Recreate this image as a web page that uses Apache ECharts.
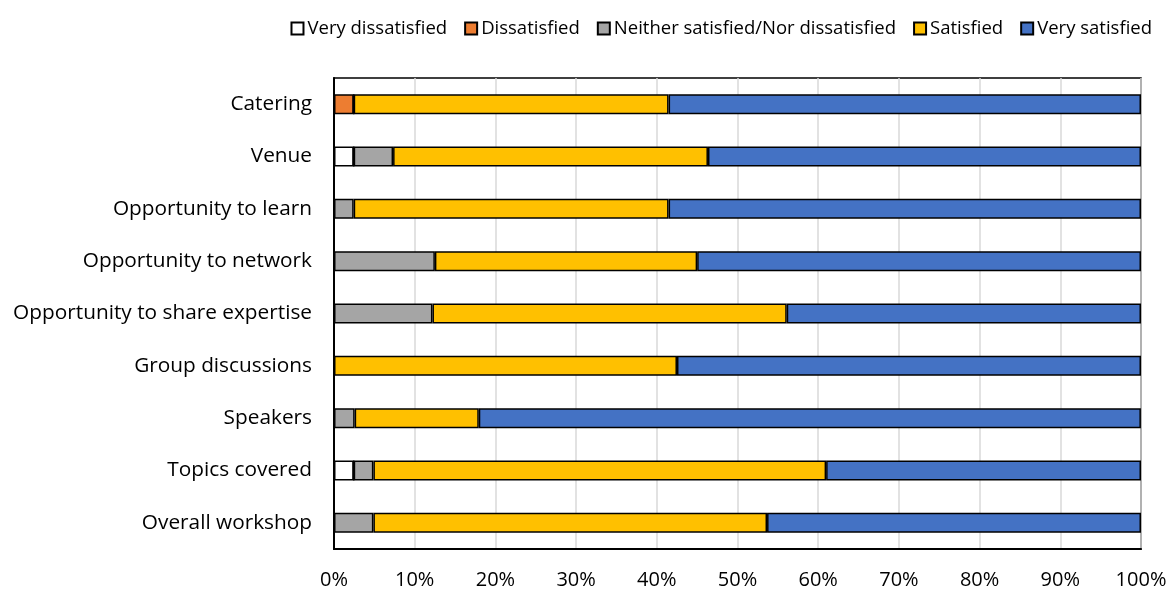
<!DOCTYPE html>
<html>
<head>
<meta charset="utf-8">
<script src="https://cdn.jsdelivr.net/npm/echarts@6/dist/echarts.min.js"></script>
<style>
  html, body { margin: 0; padding: 0; background: #fff; }
  #chart { width: 1171px; height: 590px; }
</style>
</head>
<body>
<div id="chart"></div>
<script>
// Workshop feedback: share of responses per rating, by aspect (percent)
const categories = [
  'Catering',
  'Venue',
  'Opportunity to learn',
  'Opportunity to network',
  'Opportunity to share expertise',
  'Group discussions',
  'Speakers',
  'Topics covered',
  'Overall workshop'
];

const veryDissatisfied = [0, 2.44, 0, 0, 0, 0, 0, 2.44, 0];
const dissatisfied     = [2.44, 0, 0, 0, 0, 0, 0, 0, 0];
const neither          = [0, 4.88, 2.44, 12.5, 12.2, 0, 2.56, 2.44, 4.88];
const satisfied        = [39.02, 39.02, 39.02, 32.5, 43.9, 42.5, 15.38, 56.1, 48.78];
const verySatisfied    = [58.54, 53.66, 58.54, 55.0, 43.9, 57.5, 82.05, 39.02, 46.34];

const xTicks = [0, 10, 20, 30, 40, 50, 60, 70, 80, 90, 100];

const seriesDefs = [
  { name: 'Very dissatisfied', data: veryDissatisfied, color: '#FFFFFF' },
  { name: 'Dissatisfied', data: dissatisfied, color: '#ED7D31' },
  { name: 'Neither satisfied/Nor dissatisfied', data: neither, color: '#A5A5A5' },
  { name: 'Satisfied', data: satisfied, color: '#FFC000' },
  { name: 'Very satisfied', data: verySatisfied, color: '#4472C4' }
];

const FONT = 'Open Sans, Noto Sans, sans-serif';

const chart = echarts.init(document.getElementById('chart'), null, { renderer: 'canvas' });

chart.setOption({
  animation: false,
  backgroundColor: '#ffffff',
  textStyle: { fontFamily: FONT },
  legend: {
    top: 14,
    right: 14,
    itemWidth: 12,
    itemHeight: 12,
    itemGap: 17,
    icon: 'rect',
    textStyle: { fontSize: 18.5, color: '#000', fontFamily: FONT, padding: [0, 0, 0, -1] },
    data: seriesDefs.map(s => s.name)
  },
  grid: {
    left: 334,
    right: 30,
    top: 78,
    bottom: 40,
    show: true,
    borderColor: '#000',
    borderWidth: 1.5
  },
  xAxis: {
    type: 'value',
    min: xTicks[0],
    max: xTicks[xTicks.length - 1],
    interval: xTicks[1] - xTicks[0],
    axisLine: { show: true, lineStyle: { color: '#000', width: 2 } },
    axisTick: { show: false },
    splitLine: { show: true, lineStyle: { color: '#d9d9d9', width: 1.5 } },
    axisLabel: {
      formatter: '{value}%',
      fontSize: 20,
      color: '#000',
      margin: 21,
      fontFamily: FONT
    }
  },
  yAxis: {
    type: 'category',
    inverse: true,
    data: categories,
    axisLine: { show: true, lineStyle: { color: '#000', width: 2 } },
    axisTick: { show: false },
    axisLabel: { fontSize: 20.8, color: '#000', margin: 22, fontFamily: FONT }
  },
  series: seriesDefs.map(s => ({
    name: s.name,
    type: 'bar',
    stack: 'total',
    barWidth: 20,
    data: s.data,
    itemStyle: { color: s.color, borderColor: '#000', borderWidth: 1.5 }
  }))
});
</script>
</body>
</html>
